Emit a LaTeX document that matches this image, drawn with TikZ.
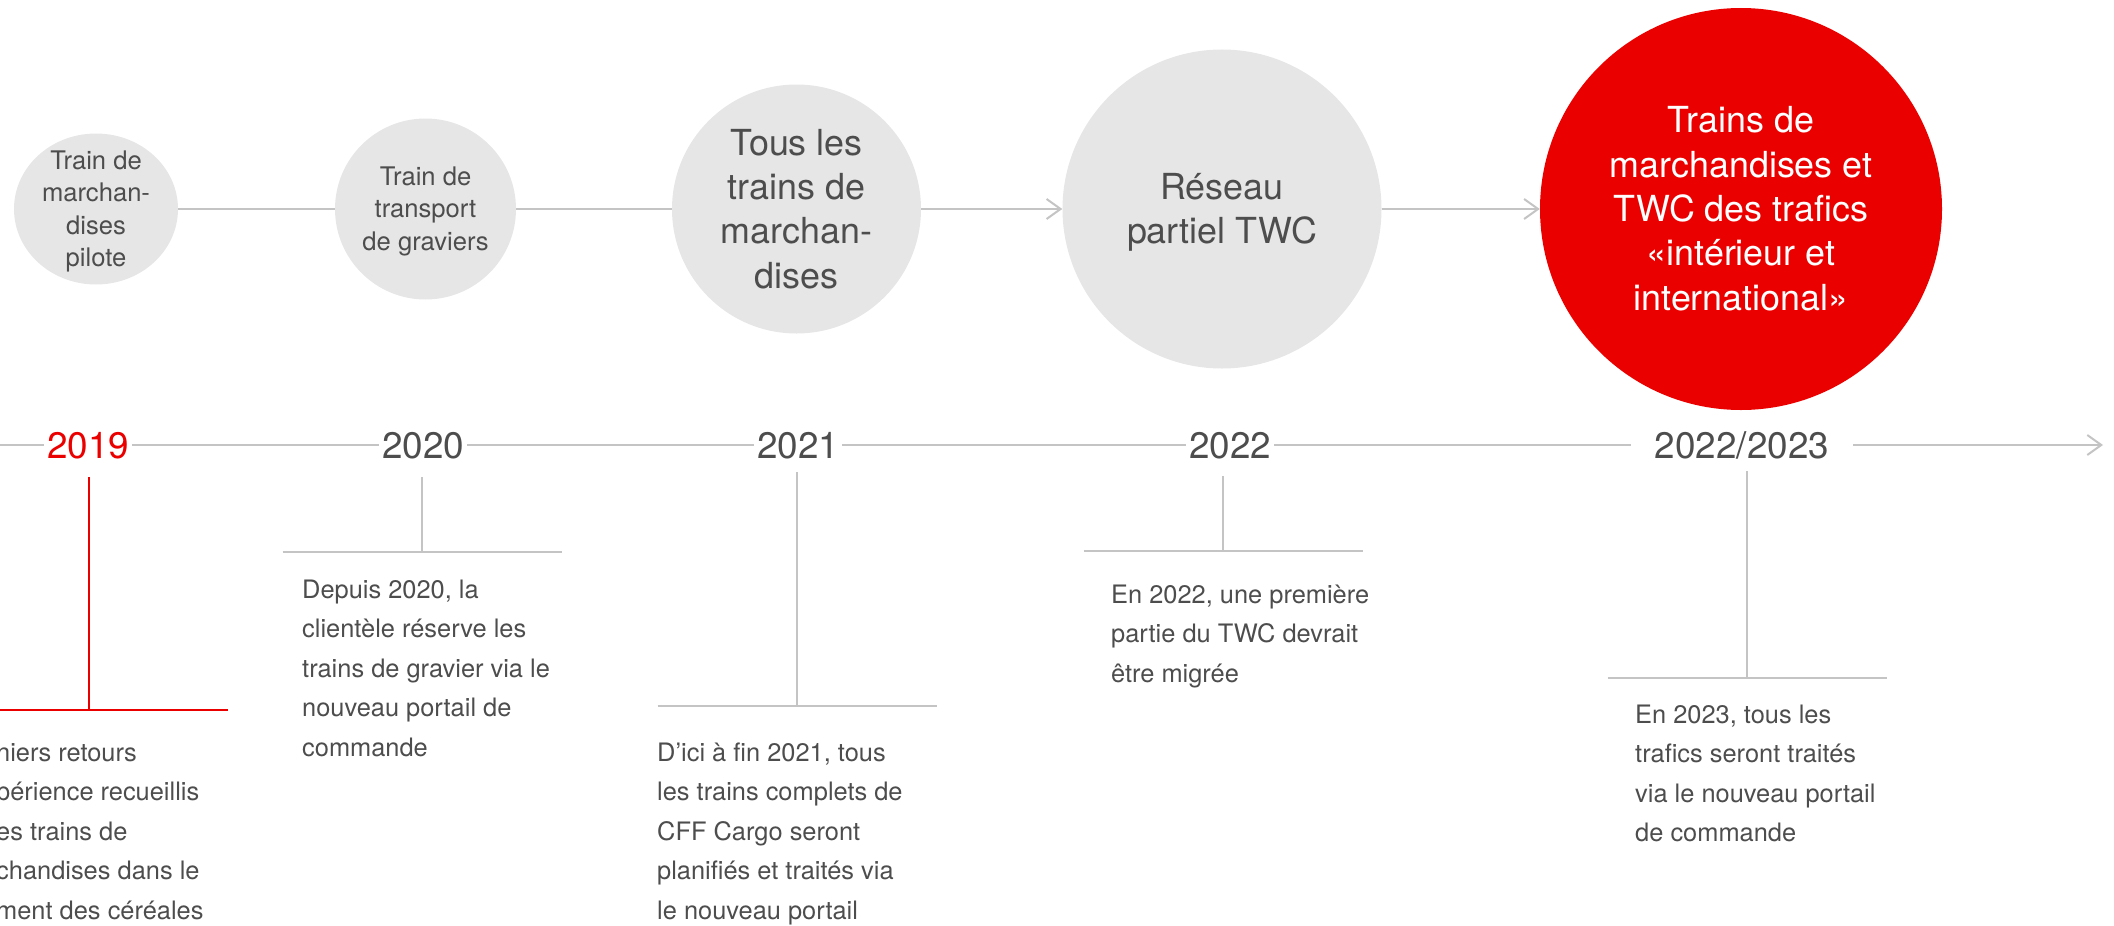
\documentclass[tikz,border=0pt]{standalone}
\usepackage{fontspec}
\setmainfont{TeX Gyre Heros}
\usetikzlibrary{arrows.meta,shapes.geometric,calc}
\definecolor{sbbred}{HTML}{EB0000}
\definecolor{lgray}{HTML}{C4C4C4}
\definecolor{cfill}{HTML}{E6E6E6}
\definecolor{tgray}{HTML}{4D4D4D}
\newcommand\ftop{\rule{0pt}{0.95em}}
\newcommand\fbot{\rule[-0.25em]{0pt}{0.25em}}
\newcommand\dtop{\rule{0pt}{24bp}}
\begin{document}
\begin{tikzpicture}[x=1bp,y=-1bp,
  bub/.style={circle, fill=cfill, inner sep=0pt},
  ctext/.style={inner sep=0pt, align=center, text=tgray},
  smallf/.style={font=\fontsize{25.7}{32.3}\selectfont},
  bigf/.style={font=\fontsize{36}{44.5}\selectfont},
  link/.style={draw=lgray, line width=2bp},
  arr/.style={link, -{Straight Barb[length=14bp,width=20bp]}},
  year/.style={anchor=base, inner xsep=3bp, inner ysep=0pt, font=\fontsize{37}{44}\selectfont, text=tgray},
  tline/.style={draw=lgray, line width=2bp},
  tick/.style={draw=lgray, line width=2bp},
  bar/.style={draw=lgray, line width=2.5bp},
  redtick/.style={draw=sbbred, line width=2.5bp},
  desc/.style={anchor=north west, inner sep=0pt, align=left, text=tgray, font=\fontsize{25.5}{39.7}\selectfont}
]
\useasboundingbox (0,0) rectangle (2114,926);
\clip (0,0) rectangle (2114,926);

% bubbles
\node[ellipse, fill=cfill, inner sep=0pt, minimum width=164bp, minimum height=151bp] (c1) at (96,209) {};
\node[bub, minimum size=181bp] (c2) at (425.5,209) {};
\node[bub, minimum size=249bp] (c3) at (796.5,209) {};
\node[bub, minimum size=319bp] (c4) at (1222,209) {};
\node[bub, fill=sbbred, minimum size=402bp] (c5) at (1741,209) {};

\node[ctext, smallf] (c1t) at (c1.center) {\ftop Train de\\marchan-\\dises\\pilote\fbot};
\node[ctext, smallf] (c2t) at (c2.center) {\ftop Train de\\transport\\de graviers\fbot};
\node[ctext, bigf] (c3t) at (c3.center) {\ftop Tous les\\trains de\\marchan-\\dises\fbot};
\node[ctext, bigf] (c4t) at (c4.center) {\ftop Réseau\\partiel TWC\fbot};
\node[ctext, bigf, text=white] (c5t) at (c5.center) {\ftop Trains de\\marchandises et\\TWC des trafics\\«intérieur et\\international»\fbot};

\draw[link] (c1.east) -- (c2.west);
\draw[link] (c2.east) -- (c3.west);
\draw[arr] (c3.east) -- (c4.west);
\draw[arr] (c4.east) -- (c5.west);

% timeline
\coordinate (axL) at (0,445);
\coordinate (axR) at (2103,445);
\node[year, text=sbbred] (y19) at (88,458) {2019};
\node[year] (y20) at (423,458) {2020};
\node[year] (y21) at (798,458) {2021};
\node[year] (y22) at (1230,458) {2022};
\node[year, inner xsep=24bp] (y23) at (1742,458) {2022/2023};

\draw[tline] (axL) -- (y19.west |- axL);
\draw[tline] (y19.east |- axL) -- (y20.west |- axL);
\draw[tline] (y20.east |- axL) -- (y21.west |- axL);
\draw[tline] (y21.east |- axL) -- (y22.west |- axL);
\draw[tline] (y22.east |- axL) -- (y23.west |- axL);
\draw[tline, -{Straight Barb[length=14bp,width=20bp]}] (y23.east |- axL) -- (axR);

% ticks and bars
\coordinate (t19) at (89,477);   \coordinate (b19) at (89,710);
\coordinate (t20) at (422,477);  \coordinate (b20) at (422,552);
\coordinate (t21) at (797,472);  \coordinate (b21) at (797,706);
\coordinate (t22) at (1223,476); \coordinate (b22) at (1223,551);
\coordinate (t23) at (1747,471); \coordinate (b23) at (1747,678);

\draw[redtick] (t19) -- (b19);
\draw[redtick] ($(b19)+(-139,0)$) -- ($(b19)+(139,0)$);
\draw[tick] (t20) -- (b20);
\draw[bar] ($(b20)+(-139.5,0)$) -- ($(b20)+(139.5,0)$);
\draw[tick] (t21) -- (b21);
\draw[bar] ($(b21)+(-139.5,0)$) -- ($(b21)+(139.5,0)$);
\draw[tick] (t22) -- (b22);
\draw[bar] ($(b22)+(-139.5,0)$) -- ($(b22)+(139.5,0)$);
\draw[tick] (t23) -- (b23);
\draw[bar] ($(b23)+(-139.5,0)$) -- ($(b23)+(139.5,0)$);

% descriptions
\node[desc] (d19) at (-4,737) {\dtop niers retours\\périence recueillis\\es trains de\\chandises dans le\\ment des céréales};
\node[desc] (d20) at (302,574) {\dtop Depuis 2020, la\\clientèle réserve les\\trains de gravier via le\\nouveau portail de\\commande};
\node[desc] (d21) at (657,737) {\dtop D’ici à fin 2021, tous\\les trains complets de\\CFF Cargo seront\\planifiés et traités via\\le nouveau portail};
\node[desc] (d22) at (1111,579) {\dtop En 2022, une première\\partie du TWC devrait\\être migrée};
\node[desc] (d23) at (1635,699) {\dtop En 2023, tous les\\trafics seront traités\\via le nouveau portail\\de commande};
\end{tikzpicture}
\end{document}
